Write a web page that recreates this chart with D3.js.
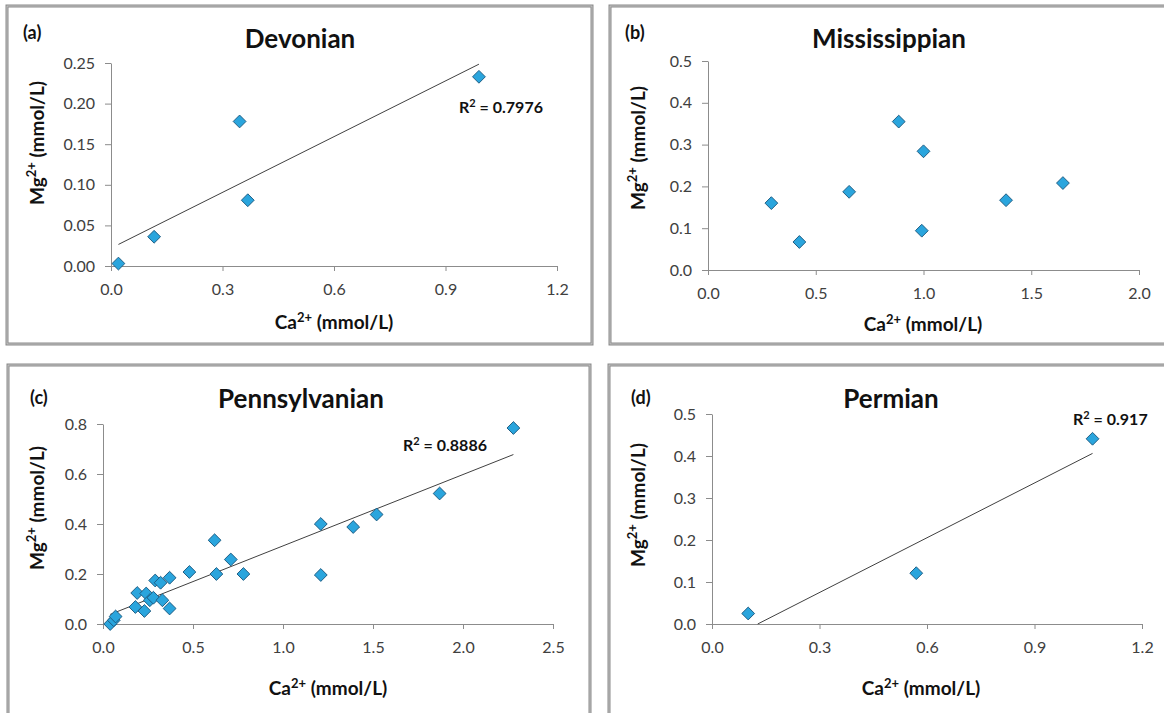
<!DOCTYPE html>
<html>
<head>
<meta charset="utf-8">
<script src="https://cdnjs.cloudflare.com/ajax/libs/d3/7.8.5/d3.min.js"></script>
<style>
  body { margin: 0; background: #fff; }
  svg { display: block; }
  text { font-family: Lato, "Open Sans", sans-serif; }
</style>
</head>
<body>
<svg id="chart" width="1164" height="713"></svg>
<script>
// ---- data (Ca2+ vs Mg2+, mmol/L) ----
const devonianCa = [0.02, 0.116, 0.346, 0.368, 0.99];
const devonianMg = [0.003, 0.036, 0.178, 0.081, 0.233];

const mississippianCa = [0.294, 0.424, 0.655, 0.885, 1.0, 0.992, 1.383, 1.647];
const mississippianMg = [0.160, 0.067, 0.187, 0.355, 0.284, 0.094, 0.167, 0.208];

const pennsylvanianCa = [0.04, 0.06, 0.07, 0.18, 0.19, 0.23, 0.24, 0.26, 0.28, 0.29, 0.32, 0.33,
                         0.37, 0.37, 0.48, 0.62, 0.63, 0.71, 0.78, 1.21, 1.21, 1.39, 1.52, 1.87, 2.28];
const pennsylvanianMg = [0.0, 0.015, 0.03, 0.068, 0.124, 0.052, 0.122, 0.095, 0.105, 0.174, 0.165, 0.095,
                         0.185, 0.062, 0.208, 0.335, 0.2, 0.258, 0.2, 0.4, 0.196, 0.388, 0.438, 0.522, 0.784];

const permianCa = [0.101, 0.57, 1.062];
const permianMg = [0.025, 0.121, 0.441];

const ticksX12 = [0, 0.3, 0.6, 0.9, 1.2];
const ticksX20 = [0, 0.5, 1.0, 1.5, 2.0];
const ticksX25 = [0, 0.5, 1.0, 1.5, 2.0, 2.5];
const ticksY025 = [0, 0.05, 0.10, 0.15, 0.20, 0.25];
const ticksY05 = [0, 0.1, 0.2, 0.3, 0.4, 0.5];
const ticksY08 = [0, 0.2, 0.4, 0.6, 0.8];

const panelLetters = ["(a)", "(b)", "(c)", "(d)"];
const panelTitles = ["Devonian", "Mississippian", "Pennsylvanian", "Permian"];
const r2Labels = ["0.7976", null, "0.8886", "0.917"];

// ---- layout ----
const panels = [
  { ca: devonianCa, mg: devonianMg, xt: ticksX12, yt: ticksY025, yf: ".2f",
    frame: [7, 6, 585, 338], px: [111, 557], py: [266, 63],
    letter: [23, 39], title: [300, 48], yTitle: [37, 143], xTitle: [334, 329], r2: [459, 113] },
  { ca: mississippianCa, mg: mississippianMg, xt: ticksX20, yt: ticksY05, yf: ".1f",
    frame: [610, 6, 570, 338], px: [708, 1139], py: [270, 61],
    letter: [625, 39], title: [889, 48], yTitle: [638, 148], xTitle: [923, 331], r2: null },
  { ca: pennsylvanianCa, mg: pennsylvanianMg, xt: ticksX25, yt: ticksY08, yf: ".1f",
    frame: [8, 365, 582, 380], px: [103, 553], py: [624, 424],
    letter: [30, 404], title: [301, 408], yTitle: [37, 508], xTitle: [328, 695], r2: [403, 451] },
  { ca: permianCa, mg: permianMg, xt: ticksX12, yt: ticksY05, yf: ".1f",
    frame: [609, 365, 570, 380], px: [712, 1142], py: [624, 414],
    letter: [631, 404], title: [891, 408], yTitle: [638, 505], xTitle: [921, 695], r2: [1073, 425] }
];

const svg = d3.select("#chart");

// text with superscript pieces: parts = [[text, isSup], ...]
function richText(sel, parts, size) {
  parts.forEach(p => {
    const t = sel.append("tspan").text(p[0]);
    if (p[1]) {
      t.attr("font-size", Math.round(size * 0.68) + "px").attr("dy", -size * 0.38);
    } else if (sel.selectAll("tspan").size() > 1) {
      t.attr("dy", size * 0.38);
    }
  });
  return sel;
}

// simple least squares fit
function fitLine(xs, ys) {
  const mx = d3.mean(xs), my = d3.mean(ys);
  let sxy = 0, sxx = 0;
  xs.forEach((x, i) => { sxy += (x - mx) * (ys[i] - my); sxx += (x - mx) * (x - mx); });
  const slope = sxy / sxx;
  return { slope: slope, icpt: my - slope * mx };
}

panels.forEach((p, i) => {
  const g = svg.append("g");

  // frame (double grey border)
  g.append("rect")
    .attr("x", p.frame[0]).attr("y", p.frame[1])
    .attr("width", p.frame[2]).attr("height", p.frame[3])
    .attr("fill", "none").attr("stroke", "#8a8a8a").attr("stroke-width", 3);
  g.append("rect")
    .attr("x", p.frame[0]).attr("y", p.frame[1])
    .attr("width", p.frame[2]).attr("height", p.frame[3])
    .attr("fill", "none").attr("stroke", "#d0d0d0").attr("stroke-width", 0.8);

  const x = d3.scaleLinear().domain([p.xt[0], p.xt[p.xt.length - 1]]).range(p.px);
  const y = d3.scaleLinear().domain([p.yt[0], p.yt[p.yt.length - 1]]).range(p.py);

  // axes
  const xAxis = g.append("g")
    .attr("transform", "translate(0," + p.py[0] + ")")
    .call(d3.axisBottom(x).tickValues(p.xt).tickFormat(d3.format(".1f"))
      .tickSize(5).tickSizeOuter(0).tickPadding(13));
  const yAxis = g.append("g")
    .attr("transform", "translate(" + p.px[0] + ",0)")
    .call(d3.axisLeft(y).tickValues(p.yt).tickFormat(d3.format(p.yf))
      .tickSize(6).tickSizeOuter(0).tickPadding(10));
  [xAxis, yAxis].forEach(a => {
    a.select(".domain").attr("stroke", "#8c8c8c");
    a.selectAll(".tick line").attr("stroke", "#8c8c8c");
    a.selectAll(".tick text").attr("fill", "#404040")
      .style("font-size", "16px").style("font-family", "Lato, sans-serif");
  });

  // trendline, clipped at the bottom of the axis
  if (r2Labels[i]) {
    const f = fitLine(p.ca, p.mg);
    let x0 = d3.min(p.ca), x1 = d3.max(p.ca);
    const yMin = y.domain()[0];
    if (f.slope * x0 + f.icpt < yMin) x0 = (yMin - f.icpt) / f.slope;
    g.append("line")
      .attr("x1", x(x0)).attr("y1", y(f.slope * x0 + f.icpt))
      .attr("x2", x(x1)).attr("y2", y(f.slope * x1 + f.icpt))
      .attr("stroke", "#404040").attr("stroke-width", 1);
  }

  // points
  const pts = p.ca.map((c, k) => [c, p.mg[k]]);
  g.selectAll("path.pt").data(pts).enter().append("path")
    .attr("class", "pt")
    .attr("d", d3.symbol(d3.symbolSquare, 82))
    .attr("transform", d => "translate(" + x(d[0]) + "," + y(d[1]) + ") rotate(45)")
    .attr("fill", "#2aa5dd").attr("stroke", "#1d5a80").attr("stroke-width", 0.9);

  // panel letter
  g.append("text").attr("x", p.letter[0]).attr("y", p.letter[1])
    .attr("font-size", "18px").attr("font-weight", "bold").attr("fill", "#111")
    .text(panelLetters[i]);

  // title
  g.append("text").attr("x", p.title[0]).attr("y", p.title[1])
    .attr("text-anchor", "middle").attr("font-size", "26px").attr("font-weight", "bold")
    .attr("fill", "#111").text(panelTitles[i]);

  // y axis title
  richText(g.append("text")
    .attr("transform", "translate(" + p.yTitle[0] + "," + p.yTitle[1] + ") rotate(-90)")
    .attr("dy", "0.35em")
    .attr("text-anchor", "middle").attr("font-size", "19px").attr("font-weight", "bold")
    .attr("fill", "#111"), [["Mg"], ["2+", true], [" (mmol/L)"]], 19);

  // x axis title
  richText(g.append("text")
    .attr("x", p.xTitle[0]).attr("y", p.xTitle[1])
    .attr("text-anchor", "middle").attr("font-size", "19px").attr("font-weight", "bold")
    .attr("fill", "#111"), [["Ca"], ["2+", true], [" (mmol/L)"]], 19);

  // R squared
  if (p.r2) {
    richText(g.append("text")
      .attr("x", p.r2[0]).attr("y", p.r2[1])
      .attr("font-size", "16px").attr("font-weight", "bold").attr("fill", "#111"),
      [["R"], ["2", true], [" = " + r2Labels[i]]], 16);
  }
});
</script>
</body>
</html>
